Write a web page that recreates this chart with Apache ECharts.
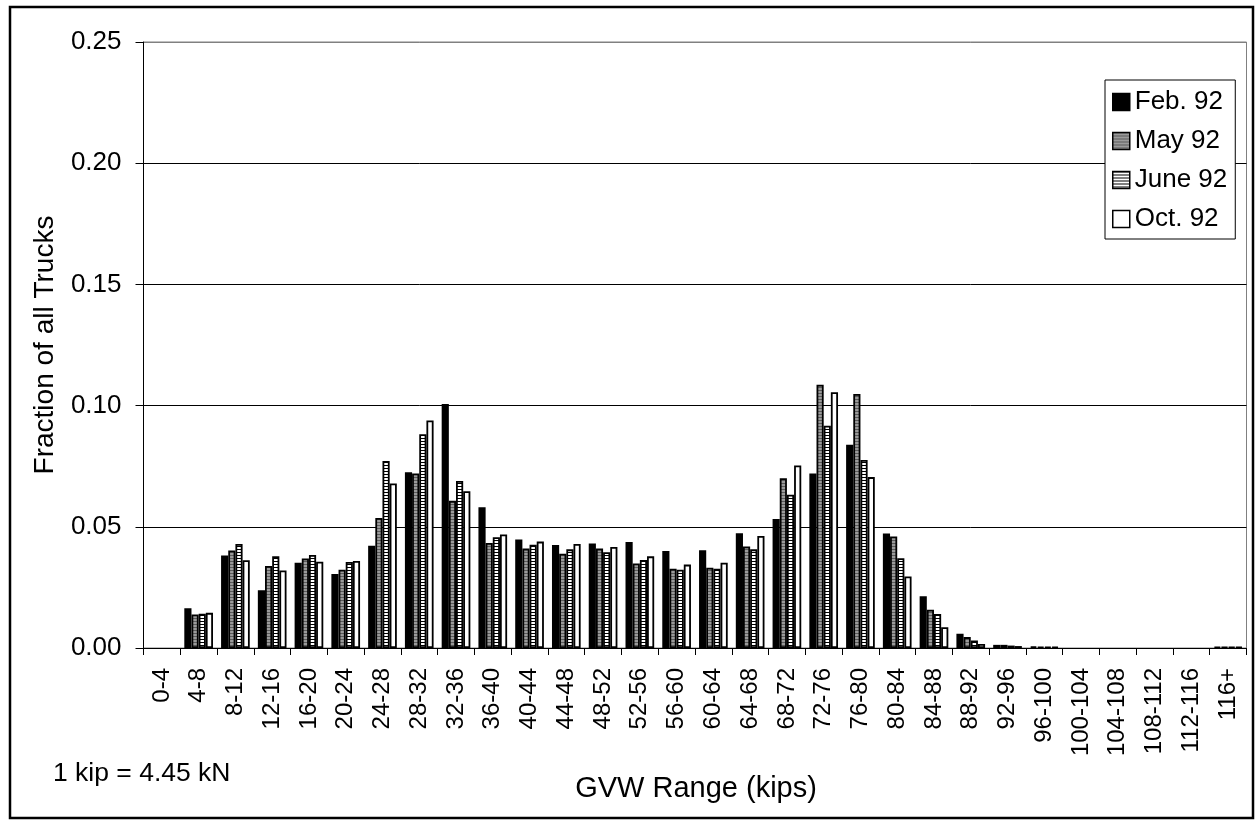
<!DOCTYPE html>
<html>
<head>
<meta charset="utf-8">
<script src="https://cdn.jsdelivr.net/npm/echarts@6/dist/echarts.min.js"></script>
<style>
html,body{margin:0;padding:0;background:#fff;}
#chart{width:1257px;height:822px;}
</style>
</head>
<body>
<div id="chart"></div>
<script>
const categories = ['0-4','4-8','8-12','12-16','16-20','20-24','24-28','28-32','32-36','36-40','40-44','44-48','48-52','52-56','56-60','60-64','64-68','68-72','72-76','76-80','80-84','84-88','88-92','92-96','96-100','100-104','104-108','108-112','112-116','116+'];
const seriesNames = ['Feb. 92','May 92','June 92','Oct. 92'];
const feb92  = [null, 0.0164, 0.0382, 0.0238, 0.0352, 0.0305, 0.0422, 0.0725, 0.1007, 0.0581, 0.0448, 0.0425, 0.0431, 0.0437, 0.0400, 0.0403, 0.0473, 0.0532, 0.0720, 0.0838, 0.0472, 0.0213, 0.0059, 0.0013, 0.0006, null, null, null, null, 0.0005];
const may92  = [null, 0.0138, 0.0402, 0.0338, 0.0369, 0.0323, 0.0536, 0.0720, 0.0607, 0.0433, 0.0410, 0.0389, 0.0410, 0.0349, 0.0327, 0.0331, 0.0419, 0.0700, 0.1086, 0.1048, 0.0460, 0.0158, 0.0045, 0.0013, 0.0005, null, null, null, null, 0.0004];
const june92 = [null, 0.0141, 0.0429, 0.0378, 0.0384, 0.0355, 0.0771, 0.0882, 0.0689, 0.0457, 0.0426, 0.0407, 0.0395, 0.0363, 0.0323, 0.0327, 0.0407, 0.0632, 0.0917, 0.0776, 0.0370, 0.0140, 0.0031, 0.0010, 0.0005, null, null, null, null, 0.0004];
const oct92  = [null, 0.0145, 0.0362, 0.0320, 0.0356, 0.0359, 0.0679, 0.0939, 0.0647, 0.0468, 0.0439, 0.0429, 0.0417, 0.0378, 0.0344, 0.0352, 0.0462, 0.0753, 0.1055, 0.0705, 0.0295, 0.0086, 0.0017, 0.0008, 0.0005, null, null, null, null, 0.0004];
const yTicks = [0, 0.05, 0.10, 0.15, 0.20, 0.25];

function stripe(bg, fg) {
  const c = document.createElement('canvas');
  c.width = 2; c.height = 3;
  const g = c.getContext('2d');
  g.fillStyle = bg; g.fillRect(0, 0, 2, 3);
  g.fillStyle = fg; g.fillRect(0, 0, 2, 1);
  return { image: c, repeat: 'repeat' };
}

const FONT = "'Liberation Sans', Arial, sans-serif";
const fills = ['#000000', stripe('#9a9a9a', '#5a5a5a'), stripe('#ffffff', '#000000'), '#ffffff'];
const values = [feb92, may92, june92, oct92];

const chart = echarts.init(document.getElementById('chart'), null, {renderer: 'canvas'});
chart.setOption({
  animation: false,
  backgroundColor: '#ffffff',
  textStyle: { fontFamily: FONT, color: '#000' },
  grid: { left: 143.5, right: 10.5, top: 42, bottom: 174, show: true, borderColor: '#808080', borderWidth: 1, containLabel: false },
  legend: {
    orient: 'vertical', left: 1105, top: 80,
    data: seriesNames.map(n => ({ name: n, icon: 'rect' })),
    itemWidth: 17, itemHeight: 17, itemGap: 11,
    padding: [8, 8, 6, 7],
    borderColor: '#000', borderWidth: 1, backgroundColor: '#fff',
    textStyle: { fontFamily: FONT, fontSize: 26, color: '#000', lineHeight: 28 },
    itemStyle: { borderColor: '#000', borderWidth: 1.5 }
  },
  xAxis: {
    type: 'category',
    data: categories,
    axisLine: { lineStyle: { color: '#000', width: 1 } },
    axisTick: { show: true, alignWithLabel: false, length: 7, lineStyle: { color: '#000' } },
    axisLabel: { interval: 0, rotate: 90, margin: 20, fontSize: 24, color: '#000', fontFamily: FONT },
    splitLine: { show: false }
  },
  yAxis: {
    type: 'value',
    min: yTicks[0], max: yTicks[yTicks.length - 1], interval: 0.05,
    axisLine: { show: true, lineStyle: { color: '#000', width: 1 } },
    axisTick: { show: true, length: 8, lineStyle: { color: '#000' } },
    axisLabel: { margin: 22, fontSize: 26, color: '#000', fontFamily: FONT, formatter: v => v.toFixed(2) },
    splitLine: { show: true, lineStyle: { color: ['#000', '#000', '#000', '#000', '#000', '#808080'], width: 1 } }
  },
  graphic: [
    { type: 'rect', shape: { x: 10, y: 7, width: 1243, height: 811 }, style: { fill: null, stroke: '#000', lineWidth: 2.5 }, silent: true, z: 100 },
    { type: 'text', x: 45, y: 345, rotation: Math.PI / 2, style: { text: 'Fraction of all Trucks', fontFamily: FONT, fontSize: 28, fill: '#000', textAlign: 'center', textVerticalAlign: 'middle' } },
    { type: 'text', x: 696, y: 789, style: { text: 'GVW Range (kips)', fontFamily: FONT, fontSize: 29, fill: '#000', textAlign: 'center', textVerticalAlign: 'middle' } },
    { type: 'text', x: 53, y: 774, style: { text: '1 kip = 4.45 kN', fontFamily: FONT, fontSize: 26.5, fill: '#000', textAlign: 'left', textVerticalAlign: 'middle' } }
  ],
  series: seriesNames.map((name, i) => ({
    name: name,
    type: 'bar',
    data: values[i],
    barGap: '0%',
    barCategoryGap: '22%',
    itemStyle: { color: fills[i], borderColor: '#000', borderWidth: 1.8 },
    emphasis: { disabled: true }
  }))
});
</script>
</body>
</html>
